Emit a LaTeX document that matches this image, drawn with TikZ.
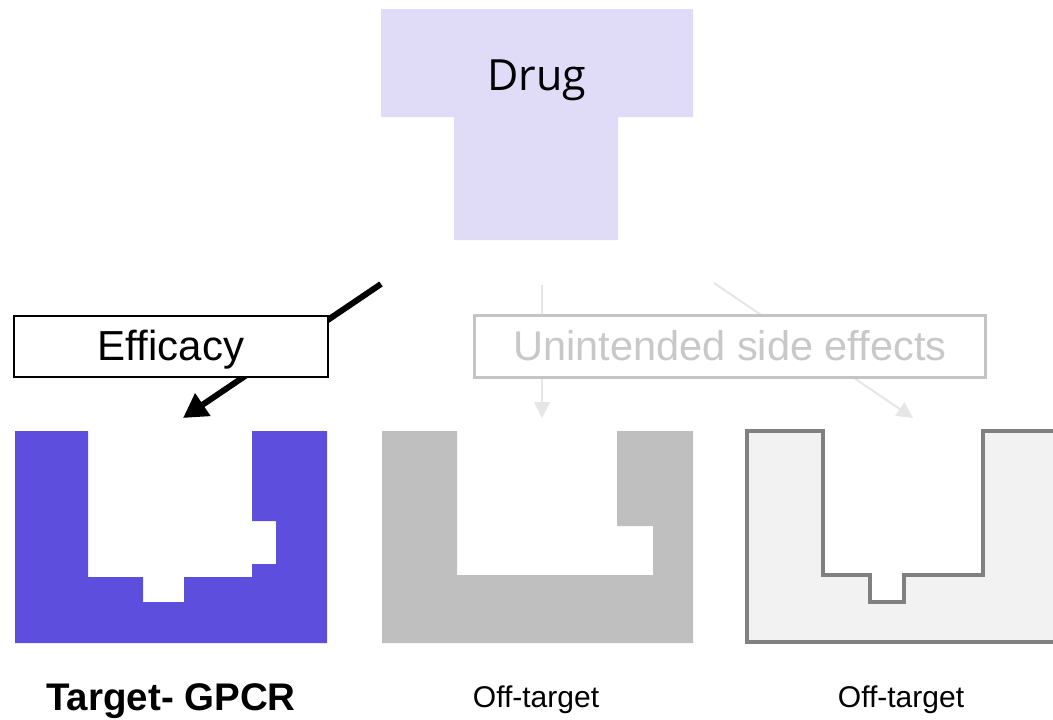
\documentclass[tikz,border=0pt]{standalone}
\usepackage{fontspec}
\setmainfont{Liberation Sans}
\newfontfamily\drugfont{Open Sans}
\usetikzlibrary{arrows.meta}
\definecolor{tgtpurple}{HTML}{5E4EDD}
\definecolor{druglilac}{HTML}{E0DCF8}
\definecolor{offgray}{HTML}{BFBFBF}
\definecolor{outlinefill}{HTML}{F2F2F2}
\definecolor{outlinestroke}{HTML}{808080}
\definecolor{faintarrow}{HTML}{E6E6E6}
\definecolor{faintbox}{HTML}{C4C4C4}
\definecolor{fainttext}{HTML}{C8C8C8}
\tikzset{
  labelbox/.style={draw=black, line width=2pt, fill=white, inner sep=0pt, minimum width=314pt, minimum height=61pt},
  sidebox/.style={draw=faintbox, line width=3pt, fill=white, inner sep=0pt, minimum width=511pt, minimum height=62pt},
  efficarrow/.style={line width=6pt, draw=black, -{Triangle[length=24pt,width=26pt]}},
  faintarr/.style={line width=2pt, draw=faintarrow, -{Triangle[length=16pt,width=16pt]}},
  caption/.style={anchor=base, inner sep=0pt},
}
\begin{document}
\begin{tikzpicture}[x=1pt, y=-1pt]
\useasboundingbox (0,0) rectangle (1053,720);
\clip (0,0) rectangle (1053,720);

% Drug T-shape
\fill[druglilac] (381,9) -- (693,9) -- (693,117) -- (618,117) -- (618,240) -- (454,240) -- (454,117) -- (381,117) -- cycle;
\node[caption, font=\drugfont\fontsize{43}{50}\selectfont] (drug) at (537,90) {Drug};

% Target GPCR shape
\fill[tgtpurple] (15,431) -- (88,431) -- (88,577) -- (143,577) -- (143,602) -- (184,602) -- (184,577) -- (252,577) -- (252,564) -- (276,564) -- (276,521) -- (252,521) -- (252,431) -- (327,431) -- (327,643) -- (15,643) -- cycle;

% Off-target 1 (gray)
\fill[offgray] (382,431) -- (457,431) -- (457,575) -- (653,575) -- (653,526) -- (617,526) -- (617,431) -- (693,431) -- (693,643) -- (382,643) -- cycle;

% Off-target 2 (outline)
\filldraw[fill=outlinefill, draw=outlinestroke, line width=4pt] (747,431) -- (823,431) -- (823,575) -- (870,575) -- (870,602) -- (904,602) -- (904,575) -- (983,575) -- (983,431) -- (1070,431) -- (1070,642) -- (747,642) -- cycle;

% arrows
\coordinate (effstart) at (381,284);
\coordinate (efftip) at (183,418);
\coordinate (vstart) at (542,285);
\coordinate (vtip) at (542,418);
\coordinate (dstart) at (714,283);
\coordinate (dtip) at (913,418);
\draw[efficarrow] (effstart) -- (efftip);
\draw[faintarr] (vstart) -- (vtip);
\draw[faintarr] (dstart) -- (dtip);

% label boxes
\node[labelbox] (eff) at (171,346.5) {};
\node[caption, font=\fontsize{42}{50}\selectfont] (efftext) at (171,360) {Efficacy};
\node[sidebox] (side) at (729.5,346.5) {};
\node[caption, text=fainttext, font=\fontsize{41.5}{50}\selectfont] (sidetext) at (730,360) {Unintended side effects};

% captions
\node[caption, font=\bfseries\fontsize{38.5}{46}\selectfont] (cap1) at (171,710) {Target- GPCR};
\node[caption, font=\fontsize{30}{36}\selectfont] (cap2) at (536,707) {Off-target};
\node[caption, font=\fontsize{30}{36}\selectfont] (cap3) at (901,707) {Off-target};
\end{tikzpicture}
\end{document}
